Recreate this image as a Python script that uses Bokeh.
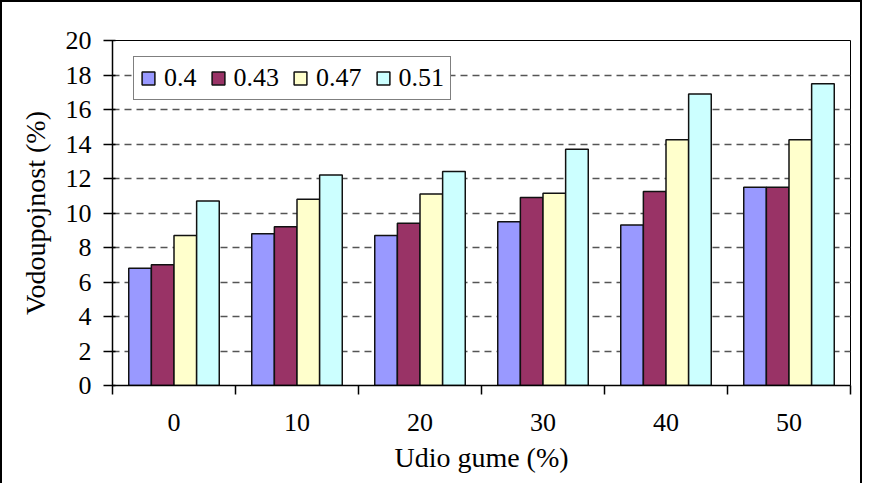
from bokeh.plotting import figure
from bokeh.models import FixedTicker, ColumnDataSource
from bokeh.transform import dodge
from bokeh.embed import file_html
from bokeh.resources import INLINE

categories = ["0", "10", "20", "30", "40", "50"]
series_names = ["0.4", "0.43", "0.47", "0.51"]
s040 = [6.8, 8.8, 8.7, 9.5, 9.3, 11.5]
s043 = [7.0, 9.2, 9.4, 10.9, 11.25, 11.5]
s047 = [8.7, 10.8, 11.1, 11.15, 14.25, 14.25]
s051 = [10.7, 12.2, 12.4, 13.7, 16.9, 17.5]
y_ticks = [0, 2, 4, 6, 8, 10, 12, 14, 16, 18, 20]

colors = ["#9999FF", "#993366", "#FFFFCC", "#CCFFFF"]
FONT = "Liberation Serif"

xs = [i + 0.5 for i in range(len(categories))]
src = ColumnDataSource(data=dict(x=xs, s040=s040, s043=s043, s047=s047, s051=s051))

p = figure(width=862, height=483, x_range=(0, 6), y_range=(0, 20),
           output_backend="svg", toolbar_location=None,
           min_border_left=110, min_border_right=14, min_border_top=38,
           min_border_bottom=100)
p.styles = {"border-left": "2px solid black", "border-top": "2px solid black",
            "border-right": "2px solid black"}
p.outline_line_color = "black"
p.outline_line_width = 1
p.background_fill_color = "white"

w = 0.184
offs = [-1.5 * w, -0.5 * w, 0.5 * w, 1.5 * w]
cols = ["s040", "s043", "s047", "s051"]
for col, off, c, name in zip(cols, offs, colors, series_names):
    p.vbar(x=dodge("x", off, range=p.x_range), top=col, width=w, source=src,
           fill_color=c, line_color="#111111", line_width=1.5, legend_label=name)

# y axis
p.yaxis.ticker = FixedTicker(ticks=y_ticks)
p.yaxis.axis_line_color = "black"
p.yaxis.axis_line_width = 1.5
p.yaxis.major_tick_in = 3
p.yaxis.major_tick_out = 9
p.yaxis.major_tick_line_width = 1.5
p.yaxis.minor_tick_line_color = None
p.yaxis.major_label_standoff = 12
p.yaxis.major_label_text_font = FONT
p.yaxis.major_label_text_font_size = "26px"
p.yaxis.major_label_text_color = "black"
p.yaxis.axis_label = "Vodoupojnost (%)"
p.yaxis.axis_label_text_font = FONT
p.yaxis.axis_label_text_font_size = "28px"
p.yaxis.axis_label_text_font_style = "normal"
p.yaxis.axis_label_text_color = "black"
p.yaxis.axis_label_standoff = 12

# x axis
p.xaxis.ticker = FixedTicker(ticks=xs, minor_ticks=list(range(len(categories) + 1)))
p.xaxis.major_label_overrides = {x: c for x, c in zip(xs, categories)}
p.xaxis.major_tick_in = 0
p.xaxis.major_tick_out = 0
p.xaxis.minor_tick_in = 0
p.xaxis.minor_tick_out = 9
p.xaxis.minor_tick_line_color = "black"
p.xaxis.minor_tick_line_width = 1.5
p.xaxis.axis_line_color = "black"
p.xaxis.axis_line_width = 1.5
p.xaxis.major_label_standoff = 19
p.xaxis.major_label_text_font = FONT
p.xaxis.major_label_text_font_size = "26px"
p.xaxis.major_label_text_color = "black"
p.xaxis.axis_label = "Udio gume (%)"
p.xaxis.axis_label_text_font = FONT
p.xaxis.axis_label_text_font_size = "28px"
p.xaxis.axis_label_text_font_style = "normal"
p.xaxis.axis_label_text_color = "black"
p.xaxis.axis_label_standoff = 8

p.xgrid.visible = False
p.ygrid.ticker = FixedTicker(ticks=y_ticks)
p.ygrid.grid_line_color = "#555555"
p.ygrid.grid_line_dash = "7 5"
p.ygrid.grid_line_width = 1.5

lg = p.legend[0]
lg.orientation = "horizontal"
lg.location = (21, 285)
lg.border_line_color = "black"
lg.border_line_width = 1.5
lg.background_fill_color = "white"
lg.background_fill_alpha = 1
lg.label_text_font = FONT
lg.label_text_font_size = "26px"
lg.label_text_color = "black"
lg.glyph_width = 16
lg.glyph_height = 16
lg.label_standoff = 8
lg.spacing = 13
lg.padding = 6
lg.margin = 0

open("out.html", "w").write(file_html(p, INLINE))
